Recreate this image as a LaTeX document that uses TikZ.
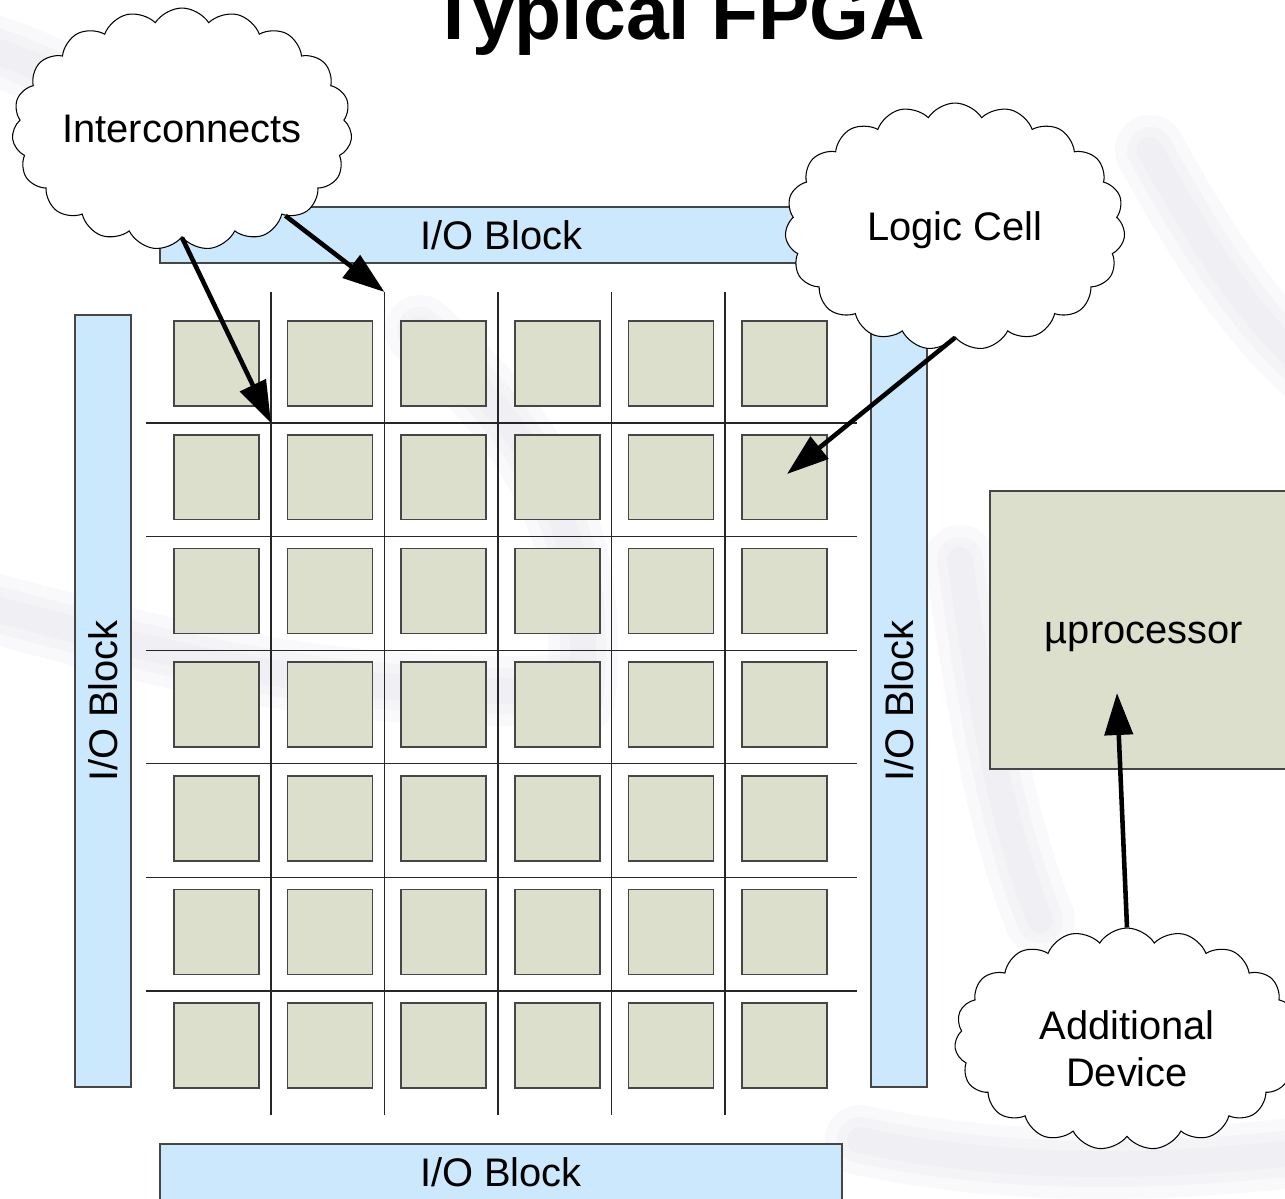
\documentclass[tikz,border=0pt]{standalone}
\usepackage{fontspec}
\setmainfont{Liberation Sans}
\usetikzlibrary{shapes.symbols,arrows.meta}
\definecolor{iofill}{RGB}{204,232,252}
\definecolor{cellfill}{RGB}{220,223,204}
\definecolor{edge}{RGB}{70,70,70}
\definecolor{swoosh}{RGB}{228,226,236}

\begin{document}
\begin{tikzpicture}[x=0.02cm,y=-0.02cm,
  iob/.style={draw=edge, line width=0.7pt, fill=iofill, inner sep=0pt,
    font=\fontsize{22.7}{26}\selectfont},
  lcell/.style={draw=edge, line width=0.9pt, fill=cellfill,
    minimum width=1.7cm, minimum height=1.7cm, inner sep=0pt},
  wire/.style={black!85, line width=0.75pt},
  callout/.style={cloud, cloud puffs=19, cloud puff arc=115, cloud ignores aspect,
    draw=black, line width=0.6pt, fill=white, inner sep=0pt, align=center,
    font=\fontsize{22.7}{27}\selectfont},
  label text/.style={align=center, inner sep=0pt, font=\fontsize{22.7}{27}\selectfont},
  pointer/.style={black, line width=2.6pt,
    -{Triangle[length=0.84cm,width=0.56cm]}},
  streak/.style={swoosh, line cap=round, opacity=0.22}]

\useasboundingbox (0,0) rectangle (1285,1198);
\fill[white] (0,0) rectangle (1285,1198);

% soft background streaks of the slide template
\begin{scope}
  \clip (0,0) rectangle (1285,1198);
  \foreach \w in {70,46,26} {
    \draw[streak, line width=\w*0.02cm] (-40,600) .. controls (120,640) and (300,700) .. (560,690);
    \draw[streak, line width=\w*0.02cm] (420,330) .. controls (520,420) and (600,520) .. (580,700);
    \draw[streak, line width=\w*0.02cm] (1150,150) .. controls (1210,260) and (1260,330) .. (1320,380);
    \draw[streak, line width=\w*0.02cm] (-40,40) .. controls (30,60) and (70,80) .. (110,110);
    \draw[streak, line width=\w*0.02cm] (860,1140) .. controls (1000,1170) and (1150,1170) .. (1320,1150);
    \draw[streak, line width=\w*0.02cm] (960,560) .. controls (980,700) and (1000,820) .. (1040,920);
  }
\end{scope}

% title
\node[anchor=base, font=\fontsize{43.8}{50}\selectfont\bfseries, inner sep=0pt]
  (title) at (678,39) {Typical FPGA};

% routing channels between the logic cells
\foreach \k in {0,...,4}
  \draw[wire] (271+113.5*\k,292) -- (271+113.5*\k,1115);
\foreach \k in {0,...,5}
  \draw[wire] (146,423+113.6*\k) -- (857,423+113.6*\k);

\coordinate (cross) at (271,423);
\coordinate (chantop) at (384.5,292);

% 6 x 7 array of logic cells
\foreach \r in {0,...,6}
  \foreach \c in {0,...,5}
    \node[lcell] (cell-\r-\c) at (216.5+113.6*\c, 363.5+113.7*\r) {};

% I/O blocks round the array
\node[iob, minimum width=13.66cm, minimum height=1.12cm] (iotop) at (501.5,235) {I/O Block};
\node[iob, minimum width=13.64cm, minimum height=1.12cm] (iobot) at (501,1172) {I/O Block};
\node[iob, minimum width=1.12cm, minimum height=15.44cm] (ioleft) at (103,701) {};
\node[rotate=90, label text] at (ioleft.center) {I/O Block};
\node[iob, minimum width=1.12cm, minimum height=15.44cm] (ioright) at (899,701) {};
\node[rotate=90, label text] at (ioright.center) {I/O Block};

% hard processor core
\node[draw=edge, line width=0.7pt, fill=cellfill, minimum width=6.16cm,
  minimum height=5.56cm] (cpu) at (1144,630) {};
\node[label text] (cputext) at (1144,637) {µprocessor};
\coordinate (cputip) at (1117,693);

% callouts
\node[callout, minimum width=6.8cm, minimum height=4.84cm] (ic) at (182,129) {Interconnects};
\node[callout, minimum width=6.8cm, minimum height=4.94cm] (lc) at (955,226.5) {};
\node[label text] (lctext) at (955,230) {Logic Cell};
\node[callout, minimum width=6.9cm, minimum height=4.44cm] (ad) at (1127,1039) {};
\node[label text] (adtext) at (1127,1049) {Additional\\Device};
\coordinate (celltip) at (787,474);

\draw[pointer] (ic.south) -- (cross);
\draw[pointer] (ic.-40) -- (chantop);
\draw[pointer] (lc.south) -- (celltip);
\draw[pointer] (ad.north) -- (cputip);
\end{tikzpicture}
\end{document}
